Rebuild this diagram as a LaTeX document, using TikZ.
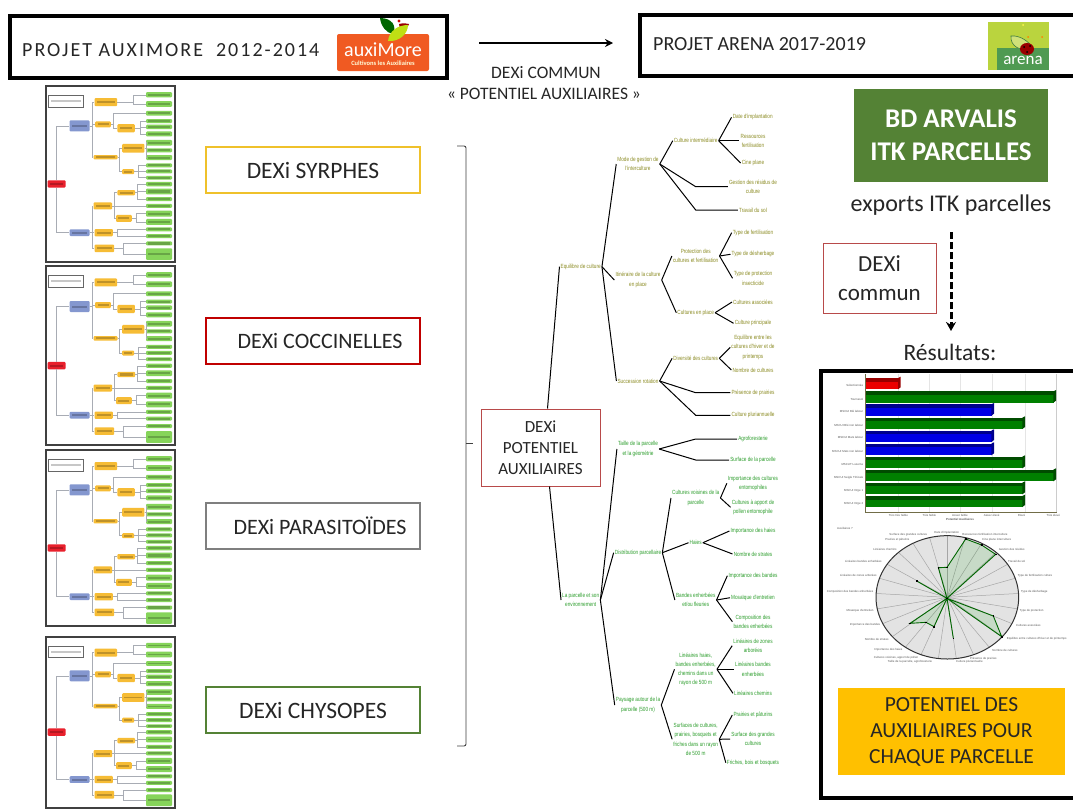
\documentclass[tikz,border=0pt]{standalone}
\usepackage{fontspec}
\usetikzlibrary{arrows.meta}
\setmainfont{Carlito}
\newfontfamily\treefont[FakeStretch=0.78]{Liberation Sans}
\newfontfamily\tinyfont{Liberation Sans}
\definecolor{dkgreen}{HTML}{548235}
\definecolor{boxred}{HTML}{C00000}
\definecolor{boxyellow}{HTML}{EFC12B}
\definecolor{boxgray}{HTML}{7F7F7F}
\definecolor{rootred}{HTML}{B84A4A}
\definecolor{treeolive}{HTML}{8C8C24}
\definecolor{treegreen}{HTML}{2E9E2E}
\definecolor{resyellow}{HTML}{FFC000}
\definecolor{thred}{HTML}{E8202C}
\definecolor{thblue}{HTML}{8497CF}
\definecolor{thorange}{HTML}{F6BC35}
\definecolor{thgreen}{HTML}{86D45A}
\definecolor{thline}{HTML}{A8ACB4}
\definecolor{auxorange}{HTML}{F05A22}
\definecolor{arlight}{HTML}{BAD43E}
\definecolor{arband}{HTML}{4F9A52}
\definecolor{ink}{HTML}{262626}
\tikzset{
  x=1pt,y=-1pt,
  bigbox/.style={draw=black,line width=3.2pt,fill=white},
  dexibox/.style={draw,line width=2.6pt,fill=white,minimum width=214pt,minimum height=46pt,text=ink,font=\fontsize{22}{26}\selectfont},
  thinred/.style={draw=rootred,line width=1pt,fill=white,align=center,text=ink,font=\fontsize{17}{24}\selectfont},
  plain/.style={font=\fontsize{17.5}{20}\selectfont,inner sep=0,text=ink},
  tol/.style={inner sep=1pt,align=center,text=treeolive,font=\treefont\fontsize{6}{9.2}\selectfont},
  tgr/.style={inner sep=1pt,align=center,text=treegreen,font=\treefont\fontsize{6}{9.2}\selectfont},
  tedge/.style={draw=black,line width=1pt},
  thbase/.style={inner sep=0,rounded corners=1pt},
  thr/.style={thbase,fill=thred},
  thb/.style={thbase,fill=thblue},
  tho/.style={thbase,fill=thorange},
  thg/.style={thbase,fill=thgreen},
  thn/.style={inner sep=0,draw=black!60,line width=0.6pt,fill=white},
  tline/.style={draw=thline,line width=0.5pt},
  rlab/.style={inner sep=0,text=black!65,font=\tinyfont\fontsize{2.9}{3.4}\selectfont},
}
% one box of a thumbnail, given by its corners
\newcommand\tb[6]{%
  \pgfmathsetmacro\tbw{(#5-#3)/3}\pgfmathsetmacro\tbh{(#6-#4)/3}%
  \node[#2,minimum width=\tbw pt,minimum height=\tbh pt] (#1) at ({(#3+#5)/2},{(#4+#6)/2}) {};%
  \path[fill=black,opacity=.22] ({#3+7},{(#4+#6)/2-3}) rectangle ({#5-7},{(#4+#6)/2+3});%
}
\newcommand\tc[3]{\foreach \tgt in {#3} {\draw[tline] (#1.east) -- ++(#2,0) |- (\tgt.west);}}
% thumbnail of a DEXi tree
\newcommand\thumb[5]{%
\begin{scope}[shift={({#2-17*#4/388},{#3-20*#5/523})},x=#4/388*1pt,y=-#5/523*1pt,name prefix=#1-]
  \path[fill=white] (17,20) rectangle (405,543);
  \tb{note}{thn}{25}{48}{128}{82}
  \tb{r}{thr}{22}{300}{76}{322}
  \tb{ba}{thb}{88}{122}{148}{155}
  \tb{bb}{thb}{88}{446}{148}{466}
  \tb{y1}{tho}{163}{56}{231}{80}
  \tb{y2}{tho}{165}{125}{212}{143}
  \tb{y3}{tho}{232}{133}{284}{158}
  \tb{y4}{tho}{160}{225}{232}{238}
  \tb{y5}{tho}{246}{192}{313}{218}
  \tb{y6}{tho}{246}{267}{282}{282}
  \tb{y7}{tho}{160}{366}{216}{387}
  \tb{y8}{tho}{232}{329}{285}{345}
  \tb{y9}{tho}{228}{403}{275}{424}
  \tb{y10}{tho}{163}{445}{218}{467}
  \tb{y11}{tho}{163}{491}{222}{514}
  \tb{g1}{thg}{318}{38}{396}{54}
  \tb{g2}{thg}{318}{65}{396}{82}
  \tb{g3}{thg}{318}{94}{396}{108}
  \tb{g4}{thg}{318}{118}{396}{130}
  \tb{g5}{thg}{318}{135}{396}{148}
  \tb{g6}{thg}{318}{155}{396}{170}
  \tb{g7}{thg}{318}{180}{396}{197}
  \tb{g8}{thg}{318}{205}{396}{217}
  \tb{g9}{thg}{318}{225}{396}{240}
  \tb{g10}{thg}{318}{250}{396}{262}
  \tb{g11}{thg}{318}{268}{396}{280}
  \tb{g12}{thg}{318}{287}{396}{298}
  \tb{g13}{thg}{318}{305}{396}{318}
  \tb{g14}{thg}{318}{325}{396}{342}
  \tb{g15}{thg}{318}{350}{396}{362}
  \tb{g16}{thg}{318}{370}{396}{382}
  \tb{g17}{thg}{318}{390}{396}{408}
  \tb{g18}{thg}{318}{415}{396}{433}
  \tb{g19}{thg}{318}{440}{396}{452}
  \tb{g20}{thg}{318}{460}{396}{472}
  \tb{g21}{thg}{318}{482}{396}{494}
  \tb{g22}{thg}{318}{502}{396}{537}
  \draw[tline] (r.north) |- (ba.west);
  \draw[tline] (r.south) |- (bb.west);
  \tc{ba}{7}{y1,y2,y4}
  \tc{bb}{7}{y7,y10,y11}
  \tc{y1}{47}{g1,g2}
  \tc{y2}{6}{g3,y3}
  \tc{y3}{16}{g4,g5,g6}
  \tc{y4}{6}{y5,y6}
  \tc{y5}{5}{g7,g8,g9}
  \tc{y6}{13}{g10,g11,g12}
  \tc{y7}{6}{y8,g16,y9}
  \tc{y8}{7}{g13,g14,g15}
  \tc{y9}{13}{g17,g18}
  \tc{y10}{14}{g19,g20}
  \tc{y11}{28}{g21,g22}
  \draw[black!75,line width=1.1pt] (17,20) rectangle (405,543);
\end{scope}}
\newcommand\hbarr[5]{% y1 y2 x2 main dark
  \fill[#4] (138,#1) rectangle ({#3-7},#2);
  \fill[#5] (138,#1) rectangle ({#3-2},{#1+11});
  \fill[#5] ({#3-8},#1) -- (#3,{#1-4}) -- (#3,{#2-6}) -- ({#3-8},#2) -- cycle;
}
\newcommand\rl[3]{\node[rlab] at (#1,#2) {#3};}
\begin{document}
\begin{tikzpicture}
\useasboundingbox (0,0) rectangle (1073,809);
\clip (0,0) rectangle (1073,809);
\fill[white] (0,0) rectangle (1073,809);

% top boxes
\path[bigbox] (10,16) rectangle (447,78);
\path[bigbox] (640,15) rectangle (1080,76);
\node[inner sep=0,anchor=west,text=ink,font=\fontsize{20}{24}\selectfont\addfontfeature{LetterSpace=10}] (auxtitle) at (22,50) {PROJET AUXIMORE\ \ 2012-2014};
\node[inner sep=0,anchor=west,text=ink,font=\fontsize{20}{24}\selectfont] (arenatitle) at (653,44) {PROJET ARENA 2017-2019};

% auximore logo
\fill[auxorange,rounded corners=2pt] (337,34) rectangle (429,71);
\fill[green!40!black] (380,18) .. controls (392,18) and (397,26) .. (393,34) .. controls (386,33) and (381,26) .. (380,18) -- cycle;
\fill[red!60!black] (399,24) .. controls (403,23) and (406,23) .. (409,24) .. controls (408,28) and (404,30) .. (400,29) -- cycle;
\fill[yellow!75!green] (388,41) .. controls (389,31) and (398,25) .. (408,25) .. controls (408,34) and (399,42) .. (388,41) -- cycle;
\fill[red!80!black] (399,21) circle (1.6);
\node[inner sep=0,text=white,font=\fontsize{20}{22}\selectfont] (auxlogo) at (383,50) {auxiMore};
\node[inner sep=0,text=white!85!yellow,font=\fontsize{6.5}{8}\selectfont\bfseries] (auxsub) at (383,63.5) {Cultivons les Auxiliaires};

% arena logo
\fill[arlight] (988,22) rectangle (1049,70);
\fill[arband] (997,48) rectangle (1049,70);
\fill[yellow!70!white] (1023,25) circle (1);
\fill[orange] (1028,37) circle (1);
\fill[orange] (1042,37) circle (1);
\draw[arband!80!black,fill=arlight!70!white,line width=.6pt] (1011,36) .. controls (1020,35) and (1030,42) .. (1033,49) .. controls (1020,52) and (1010,46) .. (1011,36) -- cycle;
\fill[red!60!black] (1027,49) ellipse (7 and 6);
\fill[black] (1024,47) circle (1) (1030,46) circle (1) (1027,52) circle (1);
\node[inner sep=0,text=white,font=\fontsize{17}{20}\selectfont] (arlogo) at (1023,60) {arena};

% top arrow and caption
\coordinate (arrS) at (479,43);
\coordinate (arrE) at (613,43);
\draw[line width=1.8pt,-{Stealth[length=8pt,width=8pt]}] (arrS) -- (arrE);
\node[plain] (capa) at (546,73) {DEXi COMMUN};
\node[plain] (capb) at (544,94) {« POTENTIEL AUXILIAIRES »};

% thumbnails
\thumb{ta}{46}{86}{129}{176}
\thumb{tb}{46}{266}{129}{179}
\thumb{tc}{46}{450}{129}{176}
\thumb{td}{46}{637}{129}{171}

% DEXi boxes
\node[dexibox,draw=boxyellow,font=\fontsize{23.5}{26}\selectfont] (syr) at (313,170) {DEXi SYRPHES};
\node[dexibox,draw=boxred] (coc) at (313,341) {\hspace*{14pt}DEXi COCCINELLES};
\node[dexibox,draw=boxgray] (par) at (313,526) {\hspace*{14pt}DEXi PARASITOÏDES};
\node[dexibox,draw=dkgreen,font=\fontsize{23.5}{26}\selectfont] (chy) at (313,710) {DEXi CHYSOPES};

% bracket
\coordinate (brA) at (457,146);
\coordinate (brB) at (457,746);
\coordinate (brM) at (473,443);
\draw[black!75,line width=.9pt,rounded corners=2pt] (brA) -- (466,146) -- (466,746) -- (brB);
\draw[black!75,line width=.9pt] (466,443) -- (brM);

% main tree: nodes
\node[thinred,minimum width=119pt,minimum height=77pt] (root) at (540.5,447.5) {DEXi\\[-3pt]POTENTIEL\\[-3pt]AUXILIAIRES};
\node[tol] (a1) at (580.7,266.7) {Equilibre de culture};
\node[tol] (b1) at (638,164) {Mode de gestion de\\l'interculture};
\node[tol] (b2) at (638,280) {Itinéraire de la culture\\en place};
\node[tol] (b3) at (638,381) {Succession rotation};
\node[tol] (c1) at (695.7,140.7) {Culture intermédiaire};
\node[tol] (d1) at (752.7,117.3) {Date d'implantation};
\node[tol] (d2) at (753,140.7) {Ressources\\fertilisation};
\node[tol] (d3) at (753,163) {Cine plane};
\node[tol] (e1) at (753,186.7) {Gestion des résidus de\\culture};
\node[tol] (e2) at (753,210) {Travail du sol};
\node[tol] (c2) at (695.7,256) {Protection des\\cultures et fertilisation};
\node[tol] (f1) at (753,232.7) {Type de fertilisation};
\node[tol] (f2) at (753,254.3) {Type de désherbage};
\node[tol] (f3) at (753,278.3) {Type de protection\\insecticide};
\node[tol] (c3) at (695.7,312.7) {Cultures en place};
\node[tol] (g1) at (753,302) {Cultures associées};
\node[tol] (g2) at (753,323.3) {Culture principale};
\node[tol] (c4) at (695.7,358.3) {Diversité des cultures};
\node[tol] (h1) at (753,347.3) {Equilibre entre les\\cultures d'hiver et de\\printemps};
\node[tol] (h2) at (753,370) {Nombre de cultures};
\node[tol] (i1) at (753,392.7) {Présence de prairies};
\node[tol] (i2) at (753,415.3) {Culture pluriannuelle};

\node[tgr] (a2) at (580.7,600) {La parcelle et son\\environnement};
\node[tgr] (j1) at (638,449) {Taille de la parcelle\\et la géométrie};
\node[tgr] (k1) at (753,439) {Agroforesterie};
\node[tgr] (k2) at (753,460) {Surface de la parcelle};
\node[tgr] (j2) at (638,552.7) {Distribution parcellaire};
\node[tgr] (l1) at (695.7,498) {Cultures voisines de la\\parcelle};
\node[tgr] (m1) at (753,483.3) {Importance des cultures\\entomophiles};
\node[tgr] (m2) at (753,507.3) {Cultures à apport de\\pollen entomophile};
\node[tgr] (l2) at (695.7,542.7) {Haies};
\node[tgr] (n1) at (753,531) {Importance des haies};
\node[tgr] (n2) at (753,554) {Nombre de strates};
\node[tgr] (l3) at (695.7,600) {Bandes enherbées\\et/ou fleuries};
\node[tgr] (o1) at (753,575.7) {Importance des bandes};
\node[tgr] (o2) at (753,597.7) {Mosaïque d'entretien};
\node[tgr] (o3) at (753,621.7) {Composition des\\bandes enherbées};
\node[tgr] (j3) at (638,705) {Paysage autour de la\\parcelle (500 m)};
\node[tgr] (p1) at (695.7,669.3) {Linéaires haies,\\bandes enherbées,\\chemins dans un\\rayon de 500 m};
\node[tgr] (q1) at (753,645.7) {Linéaires de zones\\arborées};
\node[tgr] (q2) at (753,669.3) {Linéaires bandes\\enherbées};
\node[tgr] (q3) at (753,693.3) {Linéaires chemins};
\node[tgr] (p2) at (695.7,739.3) {Surfaces de cultures,\\prairies, bosquets et\\friches dans un rayon\\de 500 m};
\node[tgr] (r1) at (753,715) {Prairies et pâturins};
\node[tgr] (r2) at (753,739) {Surface des grandes\\cultures};
\node[tgr] (r3) at (753,762.7) {Friches, bois et bosquets};

% main tree: connectors
\draw[tedge] ([xshift=7pt]root.north) -- (a1.west);
\draw[tedge] ([xshift=9pt]root.south) -- (a2.west);
\foreach \s/\t in {a1/b1,a1/b2,a1/b3,b1/c1,c1/d1,c1/d2,c1/d3,b2/c2,b2/c3,c2/f1,c2/f2,c2/f3,c3/g1,c3/g2,b3/c4,c4/h1,c4/h2,
  a2/j1,a2/j2,a2/j3,j2/l1,j2/l2,j2/l3,l1/m1,l1/m2,l2/n1,l2/n2,l3/o1,l3/o2,l3/o3,j3/p1,j3/p2,p1/q1,p1/q2,p1/q3,p2/r1,p2/r2,p2/r3}
  {\draw[tedge] (\s.east) -- (\t.west);}
\foreach \s/\m/\t in {b1/c1/e1,b1/c1/e2,b3/c4/i1,b3/c4/i2,j1/l1/k1,j1/l1/k2}
  {\draw[tedge] (\s.east) -- (\m.center |- \t.west) -- (\t.west);}

% right column
\node[fill=dkgreen,text=white,minimum width=194pt,minimum height=93pt,align=center,font=\fontsize{27}{33}\selectfont\bfseries] (bd) at (951,135.5) {BD ARVALIS\\ITK PARCELLES};
\node[inner sep=0,text=ink,font=\fontsize{24}{28}\selectfont] (exp) at (951,205) {exports ITK parcelles};
\node[thinred,minimum width=113pt,minimum height=70pt,line width=.8pt,font=\fontsize{23}{29}\selectfont] (dc) at (879.5,278) {DEXi\\commun};
\coordinate (dS) at (951,232);
\coordinate (dE) at (951,331);
\draw[line width=3pt,dash pattern=on 7pt off 3pt,-{Stealth[length=9pt,width=10pt]}] (dS) -- (dE);
\node[inner sep=0,text=ink,font=\fontsize{23.5}{28}\selectfont] (res) at (950,352) {Résultats:};

% results panel
\path[draw=black,line width=3.2pt,fill=white] (821,371) rectangle (1085,798);

% bar chart
\begin{scope}[shift={(820,370)},x=1/3*1pt,y=-1/3*1pt]
  \foreach \gx in {233,328,420,515,615} {\draw[black!10,line width=.3pt] (\gx,12) -- (\gx,428);}
  \draw[black!20,line width=.4pt] (710,12) -- (710,428);
  \hbarr{24}{58}{242}{red!92!black}{red!60!black}
  \hbarr{64}{98}{708}{green!50!black}{green!30!black}
  \hbarr{103}{137}{522}{blue!90!black}{blue!55!black}
  \hbarr{143}{177}{615}{green!50!black}{green!30!black}
  \hbarr{182}{216}{522}{blue!90!black}{blue!55!black}
  \hbarr{221}{256}{522}{blue!90!black}{blue!55!black}
  \hbarr{260}{295}{615}{green!50!black}{green!30!black}
  \hbarr{299}{334}{708}{green!50!black}{green!30!black}
  \hbarr{338}{373}{615}{green!50!black}{green!30!black}
  \hbarr{378}{411}{615}{green!50!black}{green!30!black}
  \draw[black!55!yellow!80!black,line width=.7pt] (137,12) -- (137,428) -- (710,428);
  \foreach \ly/\lt in {47/Sélectionnée,87/Tournesol,125/MSCUI Blé labour,165/MSCUI Blé non labour,203/MSCUI Maïs labour,243/MSCUI Maïs non labour,282/MSCUT Luzerne,322/MSCUI Seigle Triticale,361/MSCUI Orge 1,401/MSCUI Orge 2}
    {\node[rlab,anchor=east] at (130,\ly) {\lt};}
  \foreach \lx/\lt in {235/Très très faible,328/Très faible,420/Assez faible,515/Assez élevé,605/Elevé,700/Très élevé}
    {\node[rlab] at (\lx,437) {\lt};}
  \node[rlab,font=\tinyfont\bfseries\fontsize{2.9}{3.4}\selectfont] at (420,447) {Potentiel Auxiliaires};
\end{scope}

% radar chart
\begin{scope}[shift={(820,515)},x=1/3*1pt,y=-1/3*1pt]
  \node[rlab] at (75,40) {Auxiliaires ?};
  \fill[black!11] (382,247) ellipse (214 and 185);
  \foreach \i in {0,...,24} {\draw[black!35,line width=.5pt] (382,247) -- ({382+214*sin(\i*14.4)},{247-185*cos(\i*14.4)});}
  \draw[black!80,line width=1pt] (382,247) ellipse (214 and 185);
  \path[fill=green!60!black,fill opacity=.12,draw=green!40!black,line width=.9pt]
    (381,250) -- (355,158) -- (381,157) -- (437,72) -- (485,90) -- (527,118) -- (381,250) -- (520,303) -- (545,365) -- (381,250) -- (400,370) -- (381,250) -- (342,335) -- (318,322) -- (270,325) -- (381,250) -- (290,198) -- cycle;
  \foreach \px/\py in {355/158,381/157,437/72,485/90,527/118,520/303,545/365,400/370,342/335,318/322,270/325,290/198,381/250}
    {\fill[black] ({\px-2.5},{\py-2.5}) rectangle ({\px+2.5},{\py+2.5});}
  \rl{380}{52}{Date d'implantation}
  \rl{495}{58}{Ressources fertilisation interculture}
  \rl{530}{75}{Cine plane interculture}
  \rl{575}{103}{Gestion des résidus}
  \rl{590}{140}{Travail du sol}
  \rl{645}{182}{Type de fertilisation culture}
  \rl{643}{230}{Type de désherbage}
  \rl{635}{287}{Type de protection}
  \rl{625}{330}{Cultures associées}
  \rl{650}{370}{Equilibre entre cultures d'hiver et de printemps}
  \rl{555}{407}{Nombre de cultures}
  \rl{490}{430}{Présence de prairies}
  \rl{448}{440}{Culture pluriannuelle}
  \rl{270}{440}{Taille de la parcelle, agroforesterie}
  \rl{228}{428}{Cultures voisines, apport de pollen}
  \rl{205}{405}{Importance des haies}
  \rl{170}{372}{Nombre de strates}
  \rl{135}{330}{Importance des bandes}
  \rl{120}{287}{Mosaïque d'entretien}
  \rl{90}{230}{Composition des bandes enherbées}
  \rl{115}{182}{Linéaires de zones arborées}
  \rl{130}{140}{Linéaires bandes enherbées}
  \rl{195}{103}{Linéaires chemins}
  \rl{232}{75}{Prairies et pâturins}
  \rl{265}{58}{Surface des grandes cultures}
\end{scope}

\node[fill=resyellow,text=ink,minimum width=227pt,minimum height=87pt,align=center,font=\fontsize{21.5}{26}\selectfont] (pot) at (951.5,731.5) {POTENTIEL DES\\AUXILIAIRES POUR\\CHAQUE PARCELLE};
\end{tikzpicture}
\end{document}
